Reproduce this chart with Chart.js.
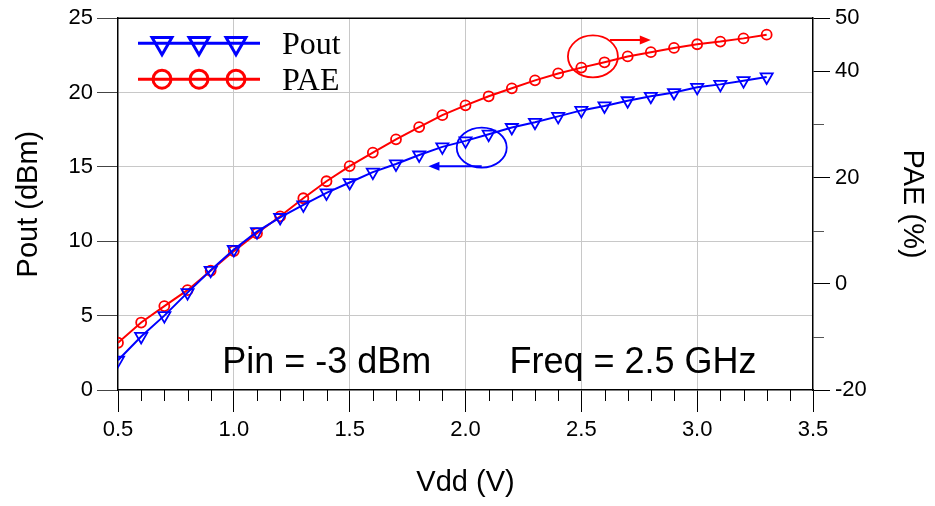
<!DOCTYPE html>
<html>
<head>
<meta charset="utf-8">
<script src="https://cdn.jsdelivr.net/npm/chart.js@4.4.1/dist/chart.umd.min.js"></script>
<style>
  html, body { margin: 0; padding: 0; background: #fff; }
  #wrap { width: 935px; height: 506px; }
</style>
</head>
<body>
<div id="wrap"><canvas id="cvs_vdd" width="935" height="506"></canvas></div>
<script>
// Valores
const vdd = [0.5, 0.6, 0.7, 0.8, 0.9, 1.0, 1.1, 1.2, 1.3, 1.4, 1.5, 1.6, 1.7, 1.8, 1.9,
             2.0, 2.1, 2.2, 2.3, 2.4, 2.5, 2.6, 2.7, 2.8, 2.9, 3.0, 3.1, 3.2, 3.3];
const pout = [2.0, 3.6, 5.0, 6.55, 8.05, 9.45, 10.65, 11.6, 12.45, 13.25, 13.95, 14.65, 15.2, 15.8, 16.35,
              16.75, 17.2, 17.65, 18.0, 18.4, 18.8, 19.1, 19.45, 19.75, 20.0, 20.35, 20.55, 20.8, 21.05];
const pae = [-11.1, -7.3, -4.2, -1.2, 2.45, 6.15, 9.5, 12.7, 16.1, 19.3, 22.15, 24.7, 27.2, 29.5, 31.75,
             33.6, 35.3, 36.8, 38.3, 39.6, 40.7, 41.7, 42.8, 43.6, 44.4, 45.1, 45.6, 46.2, 46.9];

// Rótulos do eixo direito que aparecem
const paeLabels = [50, 40, 20, 0, -20];
const paeMinor = [30, 10, -10];

// Anotações (em coordenadas de dados)
const textoPin = "Pin = -3 dBm";
const textoFreq = "Freq = 2.5 GHz";
const posPin = { x: 0.95, y: 1.15 };
const posFreq = { x: 2.19, y: 1.15 };
const elipsePae = { x: 2.55, y: 42.8, x2: 2.80, yArrow: 45.9 };
const elipsePout = { x: 2.07, y: 16.3, x2: 1.84, yArrow: 15.05 };

const azul = "#0000ff";
const vermelho = "#ff0000";
const cinzaGrade = "#c8c8c8";
const fonteSans = "'Liberation Sans', Arial, sans-serif";

function seta(ctx, x1, y1, x2, y2, cor) {
    ctx.save();
    ctx.strokeStyle = cor;
    ctx.fillStyle = cor;
    ctx.lineWidth = 2;
    const dir = x2 > x1 ? 1 : -1;
    ctx.beginPath();
    ctx.moveTo(x1, y1);
    ctx.lineTo(x2 - dir * 8, y2);
    ctx.stroke();
    ctx.beginPath();
    ctx.moveTo(x2, y2);
    ctx.lineTo(x2 - dir * 11, y2 - 4.5);
    ctx.lineTo(x2 - dir * 11, y2 + 4.5);
    ctx.closePath();
    ctx.fill();
    ctx.restore();
}

const decorPlugin = {
    id: "decor",
    afterDraw(chart) {
        const { ctx, chartArea: { left, right, top, bottom }, scales: { x, y, y1 } } = chart;
        ctx.save();

        // borda superior
        ctx.strokeStyle = "#000";
        ctx.lineWidth = 1.5;
        ctx.beginPath();
        ctx.moveTo(left, top);
        ctx.lineTo(right, top);
        ctx.stroke();

        // ticks menores do eixo x
        ctx.lineWidth = 1;
        ctx.strokeStyle = "#000";
        for (let k = 6; k < 35; k++) {
            if (k % 5 === 0) continue;
            const px = Math.round(x.getPixelForValue(k / 10)) + 0.5;
            ctx.beginPath();
            ctx.moveTo(px, bottom);
            ctx.lineTo(px, bottom + 11);
            ctx.stroke();
        }

        // ticks menores do eixo direito
        ctx.strokeStyle = "#555";
        paeMinor.forEach(v => {
            const py = Math.round(y1.getPixelForValue(v)) + 0.5;
            ctx.beginPath();
            ctx.moveTo(right, py);
            ctx.lineTo(right + 11, py);
            ctx.stroke();
        });

        // textos
        ctx.fillStyle = "#000";
        ctx.font = `36px ${fonteSans}`;
        ctx.textAlign = "left";
        ctx.textBaseline = "alphabetic";
        ctx.fillText(textoPin, x.getPixelForValue(posPin.x), y.getPixelForValue(posPin.y));
        ctx.fillText(textoFreq, x.getPixelForValue(posFreq.x), y.getPixelForValue(posFreq.y));

        // elipse + seta PAE
        ctx.lineWidth = 1.8;
        ctx.strokeStyle = vermelho;
        let cx = x.getPixelForValue(elipsePae.x), cy = y1.getPixelForValue(elipsePae.y);
        ctx.beginPath();
        ctx.ellipse(cx, cy, 25, 21, 0, 0, Math.PI * 2);
        ctx.stroke();
        let ay = y1.getPixelForValue(elipsePae.yArrow);
        seta(ctx, cx + 17, ay, x.getPixelForValue(elipsePae.x2), ay, vermelho);

        // elipse + seta Pout
        ctx.strokeStyle = azul;
        ctx.lineWidth = 1.8;
        cx = x.getPixelForValue(elipsePout.x);
        cy = y.getPixelForValue(elipsePout.y);
        ctx.beginPath();
        ctx.ellipse(cx, cy, 25, 20, 0, 0, Math.PI * 2);
        ctx.stroke();
        ay = y.getPixelForValue(elipsePout.yArrow);
        seta(ctx, cx, ay, x.getPixelForValue(elipsePout.x2), ay, azul);

        // legenda
        const ds = chart.data.datasets;
        const linhas = [top + 25, top + 61];
        const marcadores = [left + 44, left + 81, left + 118];
        ds.forEach((d, i) => {
            const ly = linhas[i];
            ctx.strokeStyle = d.borderColor;
            ctx.lineWidth = 3;
            ctx.beginPath();
            ctx.moveTo(left + 20, ly);
            ctx.lineTo(left + 142, ly);
            ctx.stroke();
            ctx.fillStyle = "rgba(0,0,0,0)";
            marcadores.forEach(mx => {
                Chart.helpers.drawPoint(ctx, {
                    pointStyle: d.pointStyle,
                    rotation: d.pointRotation || 0,
                    radius: i === 0 ? 11.5 : 9,
                    borderWidth: 3
                }, mx, ly);
            });
            ctx.fillStyle = "#000";
            ctx.font = "32px 'Liberation Serif', 'Times New Roman', serif";
            ctx.textBaseline = "middle";
            ctx.fillText(d.label, left + 164, ly + 2);
        });

        ctx.restore();
    }
};

new Chart(document.getElementById("cvs_vdd"), {
    type: "line",
    data: {
        datasets: [
            {
                label: "Pout",
                data: vdd.map((v, i) => ({ x: v, y: pout[i] })),
                yAxisID: "y",
                borderColor: azul,
                backgroundColor: "rgba(0,0,0,0)",
                borderWidth: 2,
                pointStyle: "triangle",
                pointRotation: 180,
                pointRadius: 7,
                pointBorderWidth: 1.8,
                pointBorderColor: azul,
                pointBackgroundColor: "rgba(0,0,0,0)",
                tension: 0
            },
            {
                label: "PAE",
                data: vdd.map((v, i) => ({ x: v, y: pae[i] })),
                yAxisID: "y1",
                borderColor: vermelho,
                backgroundColor: "rgba(0,0,0,0)",
                borderWidth: 2,
                pointStyle: "circle",
                pointRadius: 5,
                pointBorderWidth: 1.8,
                pointBorderColor: vermelho,
                pointBackgroundColor: "rgba(0,0,0,0)",
                tension: 0
            }
        ]
    },
    options: {
        responsive: false,
        animation: false,
        layout: { padding: { top: 18, left: 0, right: 0, bottom: 0 } },
        plugins: {
            legend: { display: false },
            tooltip: { enabled: false }
        },
        scales: {
            x: {
                type: "linear",
                min: 0.5,
                max: 3.5,
                afterFit(scale) { scale.height = 116; },
                ticks: {
                    stepSize: 0.5,
                    padding: 5,
                    color: "#000",
                    font: { family: fonteSans, size: 22 },
                    maxRotation: 0,
                    autoSkip: false,
                    callback: v => Number(v).toFixed(1)
                },
                grid: {
                    color: c => (c.tick && c.tick.value > 0.6 && c.tick.value < 3.4) ? cinzaGrade : "rgba(0,0,0,0)",
                    tickColor: "#000",
                    tickLength: 22,
                    lineWidth: 1
                },
                border: { display: true, color: "#000", width: 1.5 },
                title: {
                    display: true,
                    text: "Vdd (V)",
                    color: "#000",
                    font: { family: fonteSans, size: 29 },
                    padding: { top: 0, bottom: 6 }
                }
            },
            y: {
                position: "left",
                min: 0,
                max: 25,
                afterFit(scale) { scale.width = 118; },
                ticks: {
                    stepSize: 5,
                    padding: 4,
                    color: "#000",
                    font: { family: fonteSans, size: 22 }
                },
                grid: {
                    color: c => (c.tick && c.tick.value > 0 && c.tick.value < 25) ? cinzaGrade : "rgba(0,0,0,0)",
                    tickColor: "#444",
                    tickLength: 21,
                    lineWidth: 1
                },
                border: { display: true, color: "#000", width: 1.5 },
                title: {
                    display: true,
                    text: "Pout (dBm)",
                    color: "#000",
                    font: { family: fonteSans, size: 29 },
                    padding: { top: 12, bottom: 0 }
                }
            },
            y1: {
                position: "right",
                min: -20,
                max: 50,
                afterFit(scale) { scale.width = 122; },
                ticks: {
                    stepSize: 10,
                    padding: 5,
                    color: "#000",
                    font: { family: fonteSans, size: 22 },
                    callback: v => paeLabels.includes(v) ? String(v) : ""
                },
                grid: {
                    drawOnChartArea: false,
                    tickColor: c => (c.tick && paeLabels.includes(c.tick.value)) ? "#000" : "rgba(0,0,0,0)",
                    tickLength: 17,
                    lineWidth: 1
                },
                border: { display: true, color: "#000", width: 1.5 },
                title: {
                    display: true,
                    text: "PAE (%)",
                    color: "#000",
                    font: { family: fonteSans, size: 29 },
                    padding: { top: 6, bottom: 0 }
                }
            }
        }
    },
    plugins: [decorPlugin]
});
</script>
</body>
</html>
